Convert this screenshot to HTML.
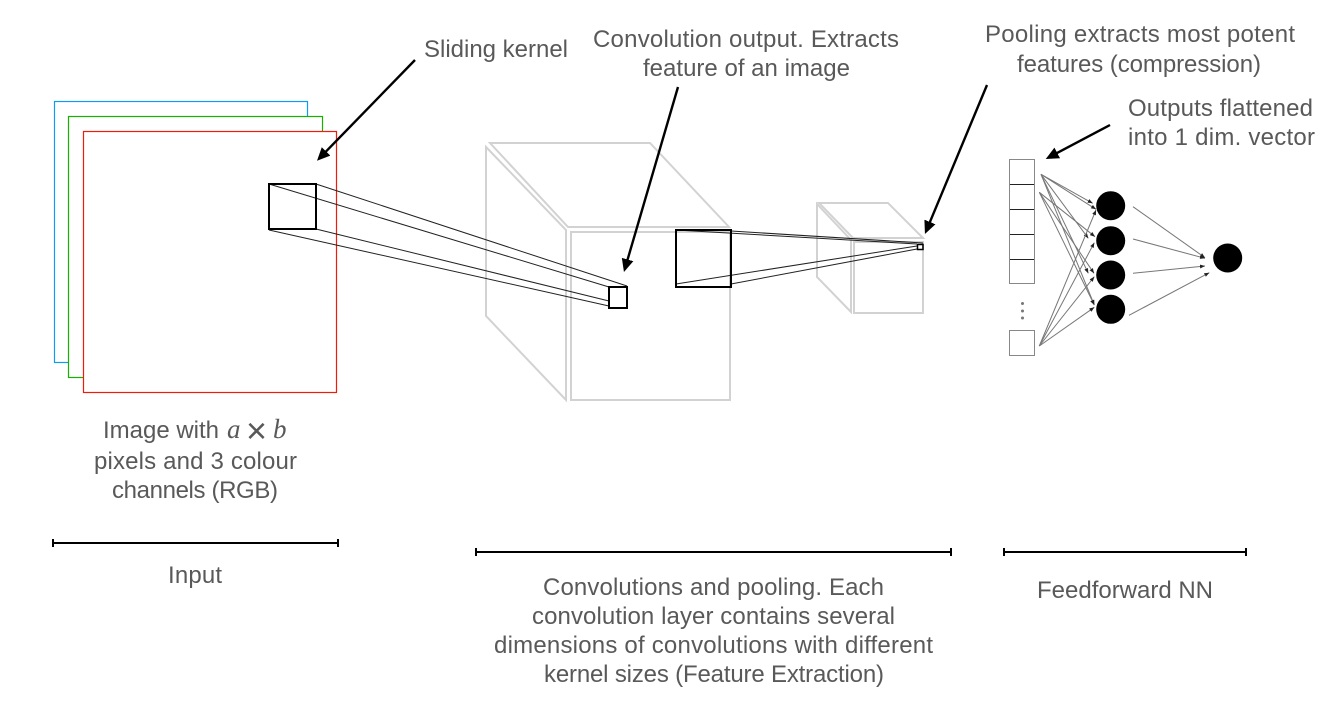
<!DOCTYPE html>
<html><head><meta charset="utf-8">
<style>
html,body{margin:0;padding:0;background:#fff;width:1342px;height:716px;overflow:hidden}
svg{display:block}
text{font-family:"Liberation Sans",sans-serif;font-size:24px;fill:#595959;font-variant-ligatures:none}
.m{font-family:"Liberation Serif",serif;font-style:italic;font-size:27px}
</style></head><body>
<svg width="1342" height="716" viewBox="0 0 1342 716" xmlns="http://www.w3.org/2000/svg">
<defs>
<marker id="big" markerUnits="userSpaceOnUse" markerWidth="14" markerHeight="13" refX="10" refY="6" orient="auto"><path d="M0 0L13 6L0 12z" fill="#000"/></marker>
<marker id="sm" markerUnits="userSpaceOnUse" markerWidth="6" markerHeight="6" refX="5" refY="2.5" orient="auto"><path d="M0 .5L5 2.5L0 4.5z" fill="#222"/></marker>
</defs>
<!-- input -->
<g fill="#fff" stroke-width="1.2">
<rect x="54.5" y="101.5" width="253" height="261" stroke="#0f9cf0"/>
<rect x="68.5" y="116.5" width="254" height="261" stroke="#16b000"/>
<rect x="83.5" y="131.5" width="253" height="261" stroke="#ee1c0c"/>
</g>
<!-- cubes -->
<g fill="none" stroke="#d2d2d2" stroke-width="2">
<path d="M486 147L566 230V400L486 316z"/>
<path d="M490 143H650L729 227H568z"/>
<rect x="571" y="232" width="159" height="168"/>
<path d="M817 204L851 240V312L817 277z"/>
<path d="M819 203H888L923 238H853z"/>
<rect x="854" y="242" width="69" height="71"/>
</g>
<!-- kernel lines -->
<g stroke="#222" stroke-width="1" fill="none">
<path d="M316 184L627 286M269 184L609 287M316 229L609 301M269 230L609 306"/>
<path d="M676 230L917 244M731 231L923 243M676 284L917 246M731 284L917 249"/>
</g>
<g fill="none" stroke="#000" stroke-width="2">
<rect x="269" y="184" width="47" height="45"/>
<rect x="609" y="287" width="18" height="21"/>
<rect x="676" y="230" width="55" height="57"/>
<rect x="917.5" y="244.5" width="5.5" height="5" stroke-width="1.5"/>
</g>
<!-- arrows -->
<g stroke="#000" stroke-width="2.4" fill="none">
<path d="M415 60L319.100 158.600" marker-end="url(#big)"/>
<path d="M678 87L624.800 269.100" marker-end="url(#big)"/>
<path d="M987 85L926.100 231.200" marker-end="url(#big)"/>
<path d="M1110 125L1048.400 157.600" marker-end="url(#big)"/>
</g>
<!-- flat vector -->
<g fill="none" stroke="#888" stroke-width="1">
<rect x="1009.500" y="159.500" width="25" height="124"/>
<rect x="1009.500" y="330.500" width="25" height="25"/>
</g>
<path d="M1010 184.500H1034M1010 209.500H1034M1010 234.500H1034M1010 259.500H1034" stroke="#222" stroke-width="1"/>
<g fill="#777"><circle cx="1022.500" cy="303.500" r="1.500"/><circle cx="1022.500" cy="311" r="1.500"/><circle cx="1022.500" cy="318" r="1.500"/></g>
<!-- nn lines -->
<g stroke="#777" stroke-width="1" fill="none">
<path d="M1041 174.300L1092.700 203.300" marker-end="url(#sm)"/>
<path d="M1041 174.300L1096 209.300" marker-end="url(#sm)"/>
<path d="M1041 174.300L1088.300 238.300" marker-end="url(#sm)"/>
<path d="M1041 174.300L1088.300 273.300" marker-end="url(#sm)"/>
<path d="M1041 174.300L1094.300 305" marker-end="url(#sm)"/>
<path d="M1039.300 192.300L1095 236.700" marker-end="url(#sm)"/>
<path d="M1039.300 192.300L1094 273.300" marker-end="url(#sm)"/>
<path d="M1039.300 192.300L1094.300 305" marker-end="url(#sm)"/>
<path d="M1039.300 346L1096 210" marker-end="url(#sm)"/>
<path d="M1039.300 346L1094.300 242.700" marker-end="url(#sm)"/>
<path d="M1039.300 346L1094.300 276.700" marker-end="url(#sm)"/>
<path d="M1039.300 346L1094.300 307.300" marker-end="url(#sm)"/>
<path d="M1133 206.700L1205 257.700" marker-end="url(#sm)"/>
<path d="M1133 239L1205 258.300" marker-end="url(#sm)"/>
<path d="M1133 273.300L1205 266" marker-end="url(#sm)"/>
<path d="M1129 315.300L1209.300 272.700" marker-end="url(#sm)"/>
</g>
<g fill="#000">
<circle cx="1110.700" cy="205.700" r="14.500"/><circle cx="1110.700" cy="240.700" r="14.500"/><circle cx="1110.700" cy="275" r="14.500"/><circle cx="1110.700" cy="309.300" r="14.500"/><circle cx="1227.700" cy="258" r="14.500"/>
</g>
<!-- brackets -->
<g stroke="#000" stroke-width="2" fill="none">
<path d="M53 543H338M53 539V547M338 539V547"/>
<path d="M476 552H951M476 548V556M951 548V556"/>
<path d="M1004 552H1246M1004 548V556M1246 548V556"/>
</g>
<!-- labels -->
<text x="424" y="57" textLength="144">Sliding kernel</text>
<text x="593" y="47" textLength="306">Convolution output. Extracts</text>
<text x="643" y="76" textLength="207">feature of an image</text>
<text x="985" y="42" textLength="310">Pooling extracts most potent</text>
<text x="1017" y="72" textLength="244">features (compression)</text>
<text x="1128" y="116" textLength="185">Outputs flattened</text>
<text x="1128" y="145" textLength="187">into 1 dim. vector</text>
<text x="103" y="438" textLength="116">Image with</text>
<text x="227" y="438" class="m">a</text>
<text x="246" y="443" style="font-size:36px">×</text>
<text x="273" y="438" class="m">b</text>
<text x="94" y="469" textLength="203">pixels and 3 colour</text>
<text x="112" y="498" textLength="166">channels (RGB)</text>
<text x="168" y="583" textLength="54">Input</text>
<text x="543" y="595" textLength="341">Convolutions and pooling. Each</text>
<text x="532" y="624" textLength="363">convolution layer contains several</text>
<text x="494" y="653" textLength="439">dimensions of convolutions with different</text>
<text x="544" y="682" textLength="340">kernel sizes (Feature Extraction)</text>
<text x="1037" y="598" textLength="176">Feedforward NN</text>
</svg>
</body></html>
